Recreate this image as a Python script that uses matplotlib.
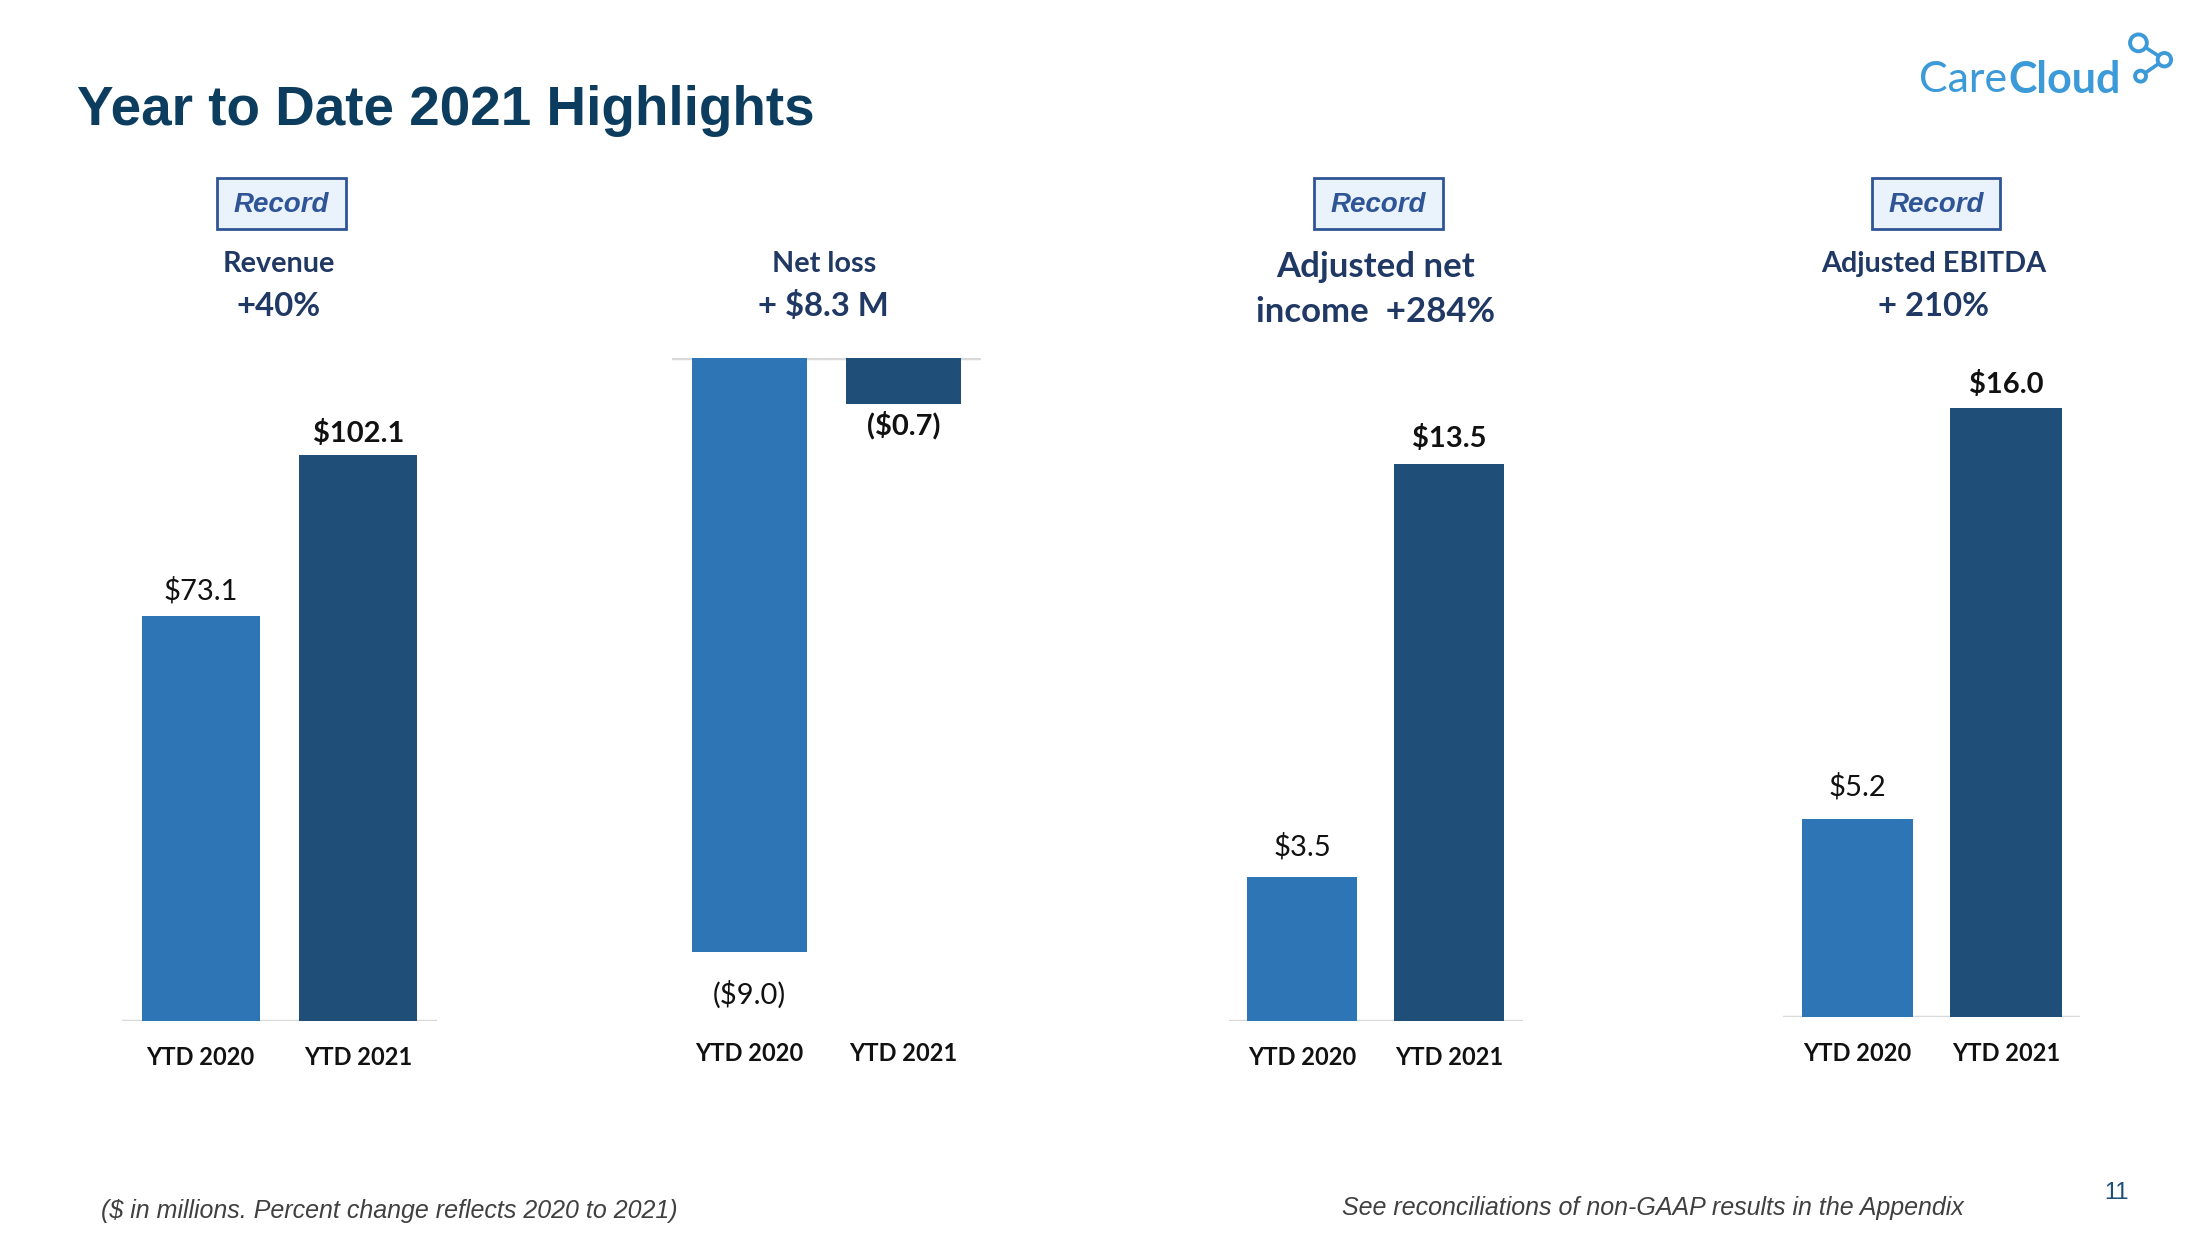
import numpy as np
from matplotlib import pyplot as plt
from matplotlib.patches import Rectangle, Circle
from matplotlib.lines import Line2D
import matplotlib.transforms as mtransforms

# data ($ in millions)
years = ["YTD 2020", "YTD 2021"]
revenue = [73.1, 102.1]
net_loss = [-9.0, -0.7]
adj_net_income = [3.5, 13.5]
adj_ebitda = [5.2, 16.0]

revenue_labels = ["$73.1", "$102.1"]
net_loss_labels = ["($9.0)", "($0.7)"]
adj_net_income_labels = ["$3.5", "$13.5"]
adj_ebitda_labels = ["$5.2", "$16.0"]

headers = [["Revenue", "+40%"], ["Net loss", "+ $8.3 M"],
           ["Adjusted net", "income  +284%"], ["Adjusted EBITDA", "+ 210%"]]
is_record = [True, False, True, True]

# slide coordinate system used for layout (scaled to the 2198x1235 output)
W, H = 1569.0, 879.0
PX = 2198 / W
PY = 1235 / H
LIGHT = "#2e75b6"
DARK = "#1f4e79"
NAVY = "#203864"
BODY = ["Lato", "DejaVu Sans"]
ARIAL = ["Liberation Sans", "DejaVu Sans"]


def fx(x):
    return x / W


def fy(y):
    return 1 - y / H


fig = plt.figure(figsize=(21.98, 12.35), dpi=100)
renderer = fig.canvas.get_renderer()

fig.text(fx(55), fy(79), "Year to Date 2021 Highlights", family=ARIAL, weight="bold",
         fontsize=39.5, color="#0d3d5e", va="center", ha="left")

# logo
logo_blue = "#3c9ad8"
care = fig.text(fx(1370), fy(57), "Care", family=BODY, weight="normal", fontsize=31,
                color=logo_blue, va="center", ha="left")
bb = care.get_window_extent(renderer)
fig.text(bb.x1 / fig.bbox.width + 0.0005, fy(57), "Cloud", family=BODY, weight="bold",
         fontsize=31, color=logo_blue, va="center", ha="left")
nodes = [(1526.5, 30.5, 6.0), (1545, 42.5, 4.8), (1528, 54.2, 3.9)]
for (xa, ya, ra), (xb, yb, rb) in zip(nodes[:-1], nodes[1:]):
    fig.add_artist(Line2D([fx(xa), fx(xb)], [fy(ya), fy(yb)], color=logo_blue, lw=2.6,
                          transform=fig.transFigure, zorder=1))
for xc, yc, rc in nodes:
    fig.add_artist(Circle((xc * PX, (H - yc) * PY), rc * PX, transform=None,
                          facecolor="white", edgecolor=logo_blue, lw=2.8, zorder=2))

# panels: axes box in slide pixels (left, right, top, bottom), y limits, label offsets, category y
panels = [
    dict(vals=revenue, labels=revenue_labels, box=(87, 312, 255, 727), ylim=(0, 119.6),
         off=[18, 16], caty=753, cx=199),
    dict(vals=net_loss, labels=net_loss_labels, box=(480, 700, 255, 727), ylim=(-10.06, 0),
         off=[-31, -15], caty=750, cx=588),
    dict(vals=adj_net_income, labels=adj_net_income_labels, box=(877, 1087, 255, 727),
         ylim=(0, 16.05), off=[22, 18], caty=753, cx=982),
    dict(vals=adj_ebitda, labels=adj_ebitda_labels, box=(1273, 1485, 255, 724),
         ylim=(0, 17.3), off=[23, 17], caty=750, cx=1380),
]

for i, p in enumerate(panels):
    l, r, t, b = p["box"]
    ax = fig.add_axes([fx(l), fy(b), (r - l) / W, (b - t) / H])
    x = np.arange(len(years))
    ax.bar(x, p["vals"], width=0.75, color=[LIGHT, DARK], zorder=2)
    ax.axhline(0, color="#d9d9d9", lw=2.5, zorder=1)
    ax.set_xlim(-0.5, 1.5)
    ax.set_ylim(*p["ylim"])
    ax.axis("off")
    for j, v in enumerate(p["vals"]):
        ax.annotate(p["labels"][j], (x[j], v), xytext=(0, p["off"][j]), textcoords="offset points",
                    ha="center", va="center", fontsize=21, family=BODY,
                    weight="bold" if j == 1 else "normal", color="#111111")
    trans = mtransforms.blended_transform_factory(ax.transData, fig.transFigure)
    for j, name in enumerate(years):
        ax.text(x[j], fy(p["caty"]), name, transform=trans, ha="center", va="center",
                fontsize=17, family=BODY, weight="bold", color="#111111")

    # header
    cx = p["cx"]
    if i == 2:
        fig.text(fx(cx), fy(190), headers[i][0], ha="center", va="center", fontsize=25,
                 family=BODY, weight="bold", color=NAVY)
        fig.text(fx(cx), fy(222), headers[i][1], ha="center", va="center", fontsize=25,
                 family=BODY, weight="bold", color=NAVY)
    else:
        fig.text(fx(cx), fy(188), headers[i][0], ha="center", va="center", fontsize=20.7,
                 family=BODY, weight="bold", color=NAVY)
        fig.text(fx(cx), fy(218), headers[i][1], ha="center", va="center", fontsize=23.7,
                 family=BODY, weight="bold", color=NAVY)
    if is_record[i]:
        bx = cx + 2
        fig.add_artist(Rectangle((fx(bx - 46), fy(163)), 92 / W, 36 / H, transform=fig.transFigure,
                                 facecolor="#eaf3fc", edgecolor="#2f5597", lw=2))
        fig.text(fx(bx), fy(146), "Record", ha="center", va="center", fontsize=20,
                 family=ARIAL, weight="bold", style="italic", color="#2f5597")

fig.text(fx(72), fy(862), "($ in millions. Percent change reflects 2020 to 2021)", family=ARIAL,
         style="italic", fontsize=18, color="#404040", ha="left", va="center")
fig.text(fx(958), fy(860), "See reconciliations of non-GAAP results in the Appendix", family=ARIAL,
         style="italic", fontsize=18, color="#404040", ha="left", va="center")
fig.text(fx(1511), fy(849), "11", family=ARIAL, fontsize=17, color="#1f4e79",
         ha="center", va="center")

fig.savefig("out.png", dpi=100, facecolor="white")
